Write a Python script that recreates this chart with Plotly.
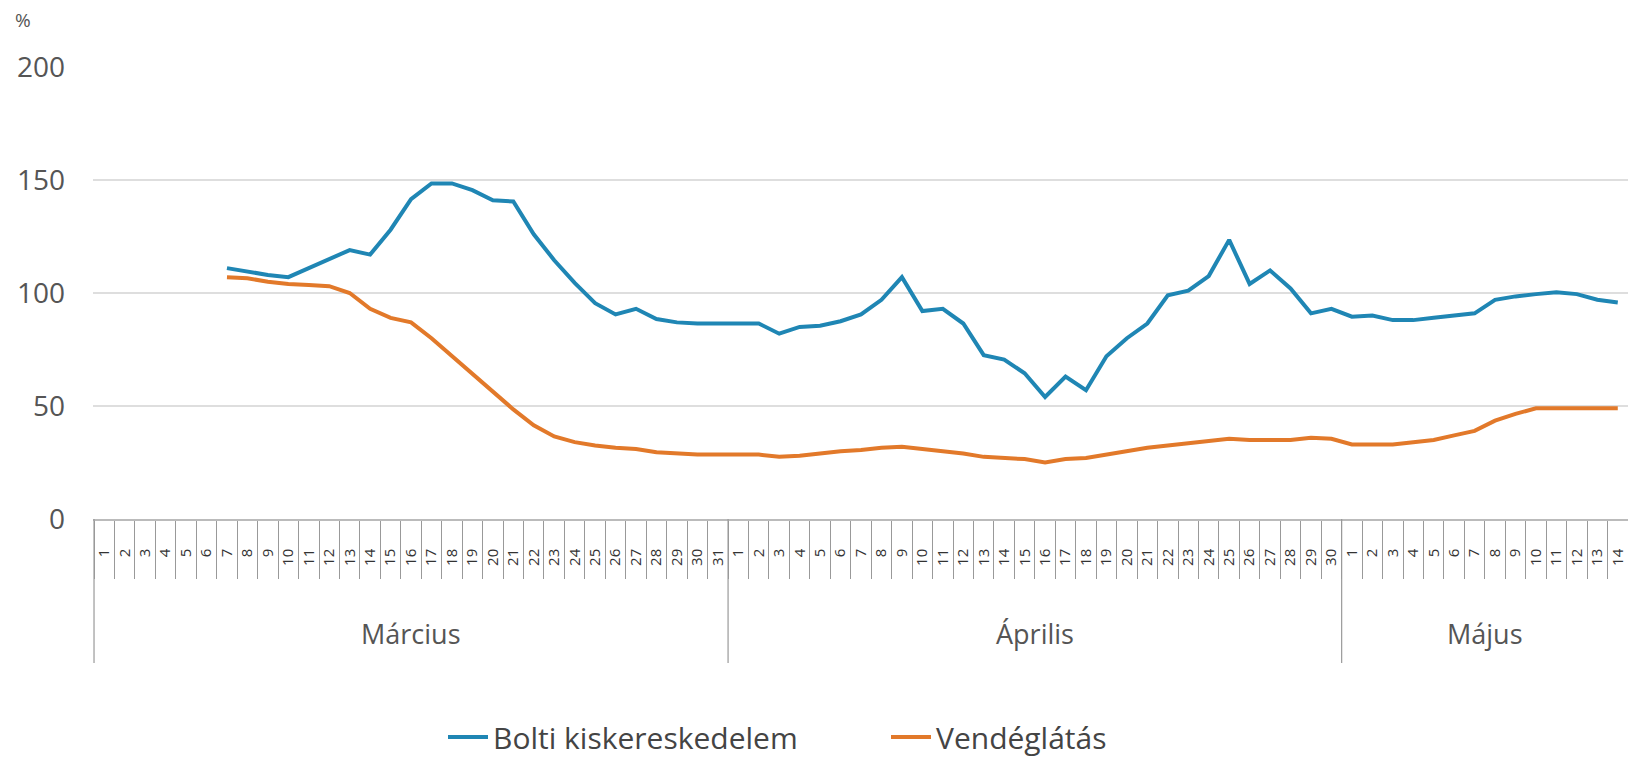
import plotly.graph_objects as go

# ---- data ----
months = ["Március", "Április", "Május"]
month_days = [31, 30, 14]

blue_name = "Bolti kiskereskedelem"
orange_name = "Vendéglátás"

bolti_marc = [None, None, None, None, None, None,
              111, 109.5, 108, 107, 111, 115, 119, 117, 128, 141.5, 148.5, 148.5, 145.5,
              141, 140.5, 126, 114.5, 104.5, 95.5, 90.5, 93, 88.5, 87, 86.5, 86.5]
bolti_apr = [86.5, 86.5, 82, 85, 85.5, 87.5, 90.5, 97, 107, 92, 93, 86.5, 72.5, 70.5, 64.5,
             54, 63, 57, 72, 80, 86.5, 99, 101, 107.5, 123.5, 104, 110, 102, 91, 93]
bolti_maj = [89.5, 90, 88, 88, 89, 90, 91, 97, 98.5, 99.5, 100.3, 99.5, 97, 95.8]

vendeg_marc = [None, None, None, None, None, None,
               107, 106.5, 105, 104, 103.5, 103, 100, 93, 89, 87, 80, 72, 64,
               56, 48.5, 41.5, 36.5, 34, 32.5, 31.5, 31, 29.5, 29, 28.5, 28.5]
vendeg_apr = [28.5, 28.5, 27.5, 28, 29, 30, 30.5, 31.5, 32, 31, 30, 29, 27.5, 27, 26.5,
              25, 26.5, 27, 28.5, 30, 31.5, 32.5, 33.5, 34.5, 35.5, 35, 35, 35, 36, 35.5]
vendeg_maj = [33, 33, 33, 34, 35, 37, 39, 43.5, 46.5, 49, 49, 49, 49, 49]

y_ticks = [0, 50, 100, 150, 200]

# ---- build category positions ----
day_labels = []
for n in month_days:
    day_labels += [str(d) for d in range(1, n + 1)]
n_cat = len(day_labels)
xs = list(range(n_cat))

bolti = bolti_marc + bolti_apr + bolti_maj
vendeg = vendeg_marc + vendeg_apr + vendeg_maj

BLUE = "#1f86b4"
ORANGE = "#e2792a"
FONT = "Open Sans, Roboto, sans-serif"

fig = go.Figure()
fig.add_trace(go.Scatter(x=xs, y=bolti, mode="lines", name=blue_name,
                         line=dict(color=BLUE, width=4), connectgaps=False,
                         legendwidth=388))
fig.add_trace(go.Scatter(x=xs, y=vendeg, mode="lines", name=orange_name,
                         line=dict(color=ORANGE, width=4), connectgaps=False))

# boundaries between days
bounds = [i - 0.5 for i in range(n_cat + 1)]

fig.update_xaxes(
    range=[-0.55, n_cat - 0.5],
    tickmode="array", tickvals=xs, ticktext=day_labels,
    tickangle=-90,
    ticks="",
    ticklabelstandoff=22,
    tickfont=dict(family=FONT, size=15, color="#333"),
    showgrid=False, zeroline=False,
    showline=True, linecolor="#bbbbbb", linewidth=1.5,
    minor=dict(tickmode="array", tickvals=bounds, ticks="outside", ticklen=58,
               tickcolor="#999999", tickwidth=1.2, showgrid=False),
)
fig.update_yaxes(
    range=[0, 200], tickvals=y_ticks,
    ticks="", ticklabelstandoff=27,
    tickfont=dict(family=FONT, size=28, color="#555"),
    showgrid=True, gridcolor="#dedede", gridwidth=1.5,
    zeroline=False, showline=False,
)

# month group labels and dividers
plot_h = 757 - 67 - 238
start = 0
for m, n in zip(months, month_days):
    fig.add_annotation(x=start + (n - 1) / 2, y=0, xref="x", yref="paper",
                       yshift=-114, text=m, showarrow=False, yanchor="middle",
                       font=dict(family=FONT, size=27, color="#555"))
    fig.add_shape(type="line", xref="x", yref="paper",
                  x0=start - 0.5, x1=start - 0.5,
                  y0=0, y1=-144 / plot_h,
                  line=dict(color="#999999", width=1.2))
    start += n

fig.add_annotation(x=0, y=1, xref="paper", yref="paper", xshift=-80, yshift=47,
                   text="%", showarrow=False, xanchor="left", yanchor="middle",
                   font=dict(family=FONT, size=19, color="#555"))

fig.update_layout(
    width=1628, height=757,
    margin=dict(l=93, r=0, t=67, b=238),
    paper_bgcolor="white", plot_bgcolor="white",
    showlegend=True,
    legend=dict(orientation="h", xref="container", yref="container",
                x=443 / 1628, y=1 - 737 / 757, xanchor="left", yanchor="middle",
                font=dict(family=FONT, size=30, color="#444"),
                itemwidth=40, tracegroupgap=0),
)

fig.write_html("out.html", config={"displayModeBar": False},
               post_script="document.body.style.margin='0';")
